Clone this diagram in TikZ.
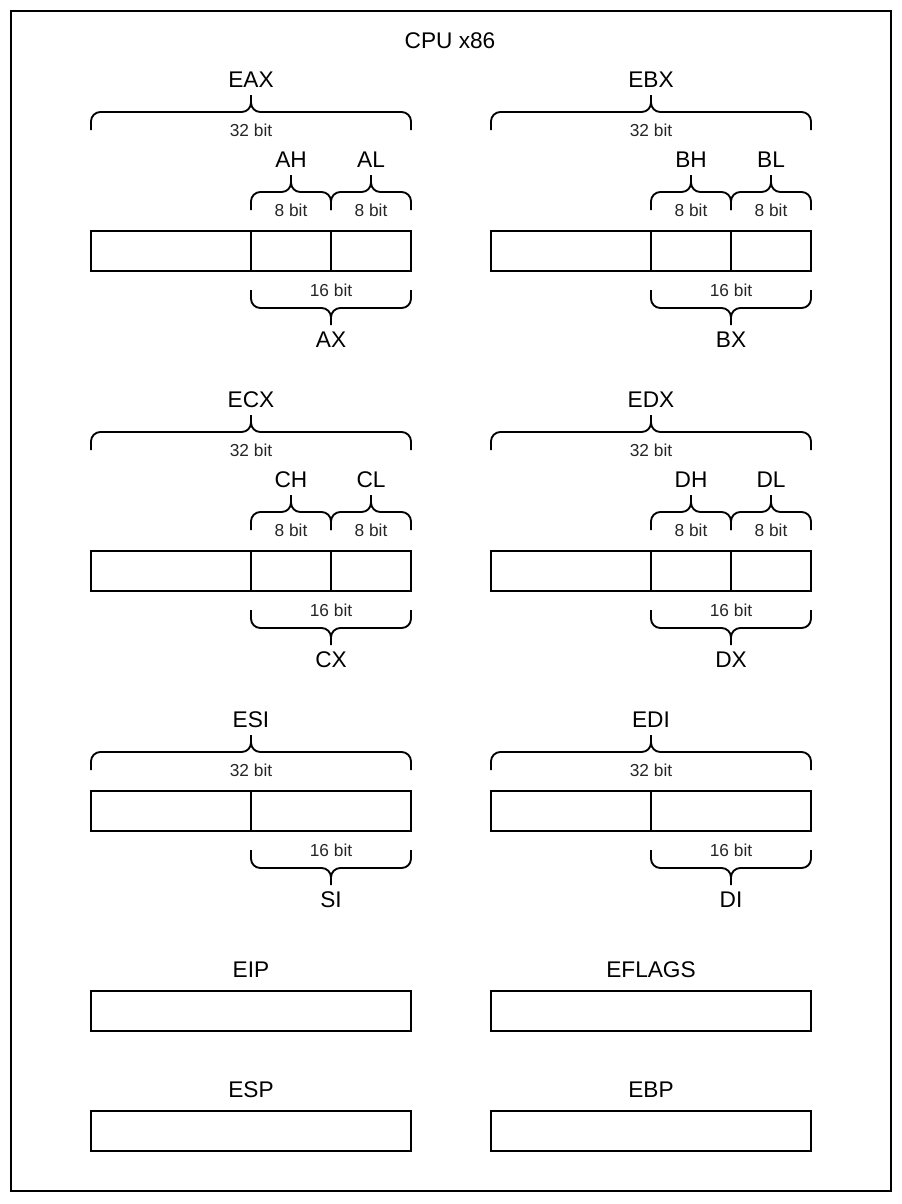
\documentclass[tikz,border=0pt]{standalone}
\usepackage{fontspec}
\setmainfont{Liberation Sans}

% curly braces, ends at #3, tip up or down
\newcommand{\regbraceup}[3]{%
	\draw[brace] (#1,#3) -- (#1,#3-18) -- ({(#1+#2)/2},#3-18) -- ({(#1+#2)/2},#3-35)
	(#2,#3) -- (#2,#3-18) -- ({(#1+#2)/2},#3-18) -- ({(#1+#2)/2},#3-35);}
\newcommand{\regbracedown}[3]{%
	\draw[brace] (#1,#3) -- (#1,#3+18) -- ({(#1+#2)/2},#3+18) -- ({(#1+#2)/2},#3+35)
	(#2,#3) -- (#2,#3+18) -- ({(#1+#2)/2},#3+18) -- ({(#1+#2)/2},#3+35);}

\begin{document}
\begin{tikzpicture}[x=0.75pt, y=-0.75pt, inner sep=0pt,
		brace/.style={line width=1.4pt, rounded corners=7pt},
		cell/.style={draw, line width=1.5pt, minimum height=30pt},
		reglabel/.style={font=\fontsize{17}{20}\selectfont},
		bitlabel/.style={font=\fontsize{13}{15}\selectfont, text=black!85}]
			\useasboundingbox (0,0) rectangle (902,1204);
			\draw[line width=1.5pt] (11,11) rectangle (891,1191);
			\node[reglabel] (cpu) at (450,41) {CPU x86};
			
			% EAX
			\node[reglabel] (eax) at (251,80) {EAX};
			\regbraceup{91}{411}{130}
			\node[bitlabel] (eax_b) at (251,130) {32 bit};
			\node[reglabel] (ah) at (291,160) {AH};
			\node[reglabel] (al) at (371,160) {AL};
			\regbraceup{251}{331}{210}
			\regbraceup{331}{411}{210}
			\node[bitlabel] (ah_b) at (291,210) {8 bit};
			\node[bitlabel] (al_b) at (371,210) {8 bit};
			\node[cell, minimum width=120pt] (eax_c) at (171,251) {};
			\node[cell, minimum width=60pt] (ah_c) at (291,251) {};
			\node[cell, minimum width=60pt] (al_c) at (371,251) {};
			\node[bitlabel] (ax_b) at (331,290) {16 bit};
			\regbracedown{251}{411}{290}
			\node[reglabel] (ax) at (331,340) {AX};
			
			% EBX
			\node[reglabel] (ebx) at (651,80) {EBX};
			\regbraceup{491}{811}{130}
			\node[bitlabel] (ebx_b) at (651,130) {32 bit};
			\node[reglabel] (bh) at (691,160) {BH};
			\node[reglabel] (bl) at (771,160) {BL};
			\regbraceup{651}{731}{210}
			\regbraceup{731}{811}{210}
			\node[bitlabel] (bh_b) at (691,210) {8 bit};
			\node[bitlabel] (bl_b) at (771,210) {8 bit};
			\node[cell, minimum width=120pt] (ebx_c) at (571,251) {};
			\node[cell, minimum width=60pt] (bh_c) at (691,251) {};
			\node[cell, minimum width=60pt] (bl_c) at (771,251) {};
			\node[bitlabel] (bx_b) at (731,290) {16 bit};
			\regbracedown{651}{811}{290}
			\node[reglabel] (bx) at (731,340) {BX};
			
			% ECX
			\node[reglabel] (ecx) at (251,400) {ECX};
			\regbraceup{91}{411}{450}
			\node[bitlabel] (ecx_b) at (251,450) {32 bit};
			\node[reglabel] (ch) at (291,480) {CH};
			\node[reglabel] (cl) at (371,480) {CL};
			\regbraceup{251}{331}{530}
			\regbraceup{331}{411}{530}
			\node[bitlabel] (ch_b) at (291,530) {8 bit};
			\node[bitlabel] (cl_b) at (371,530) {8 bit};
			\node[cell, minimum width=120pt] (ecx_c) at (171,571) {};
			\node[cell, minimum width=60pt] (ch_c) at (291,571) {};
			\node[cell, minimum width=60pt] (cl_c) at (371,571) {};
			\node[bitlabel] (cx_b) at (331,610) {16 bit};
			\regbracedown{251}{411}{610}
			\node[reglabel] (cx) at (331,660) {CX};
			
			% EDX
			\node[reglabel] (edx) at (651,400) {EDX};
			\regbraceup{491}{811}{450}
			\node[bitlabel] (edx_b) at (651,450) {32 bit};
			\node[reglabel] (dh) at (691,480) {DH};
			\node[reglabel] (dl) at (771,480) {DL};
			\regbraceup{651}{731}{530}
			\regbraceup{731}{811}{530}
			\node[bitlabel] (dh_b) at (691,530) {8 bit};
			\node[bitlabel] (dl_b) at (771,530) {8 bit};
			\node[cell, minimum width=120pt] (edx_c) at (571,571) {};
			\node[cell, minimum width=60pt] (dh_c) at (691,571) {};
			\node[cell, minimum width=60pt] (dl_c) at (771,571) {};
			\node[bitlabel] (dx_b) at (731,610) {16 bit};
			\regbracedown{651}{811}{610}
			\node[reglabel] (dx) at (731,660) {DX};
			
			% ESI, EDI
			\node[reglabel] (esi) at (251,720) {ESI};
			\regbraceup{91}{411}{770}
			\node[bitlabel] (esi_b) at (251,770) {32 bit};
			\node[cell, minimum width=120pt] (esi_c) at (171,811) {};
			\node[cell, minimum width=120pt] (si_c) at (331,811) {};
			\node[bitlabel] (si_b) at (331,850) {16 bit};
			\regbracedown{251}{411}{850}
			\node[reglabel] (si) at (331,900) {SI};
			
			\node[reglabel] (edi) at (651,720) {EDI};
			\regbraceup{491}{811}{770}
			\node[bitlabel] (edi_b) at (651,770) {32 bit};
			\node[cell, minimum width=120pt] (edi_c) at (571,811) {};
			\node[cell, minimum width=120pt] (di_c) at (731,811) {};
			\node[bitlabel] (di_b) at (731,850) {16 bit};
			\regbracedown{651}{811}{850}
			\node[reglabel] (di) at (731,900) {DI};
			
			% EIP, EFLAGS, ESP, EBP
			\node[reglabel] (eip) at (251,970) {EIP};
			\node[cell, minimum width=240pt] (eip_c) at (251,1011) {};
			\node[reglabel] (eflags) at (651,970) {EFLAGS};
			\node[cell, minimum width=240pt] (eflags_c) at (651,1011) {};
			\node[reglabel] (esp) at (251,1090) {ESP};
			\node[cell, minimum width=240pt] (esp_c) at (251,1131) {};
			\node[reglabel] (ebp) at (651,1090) {EBP};
			\node[cell, minimum width=240pt] (ebp_c) at (651,1131) {};
		\end{tikzpicture}
\end{document}
